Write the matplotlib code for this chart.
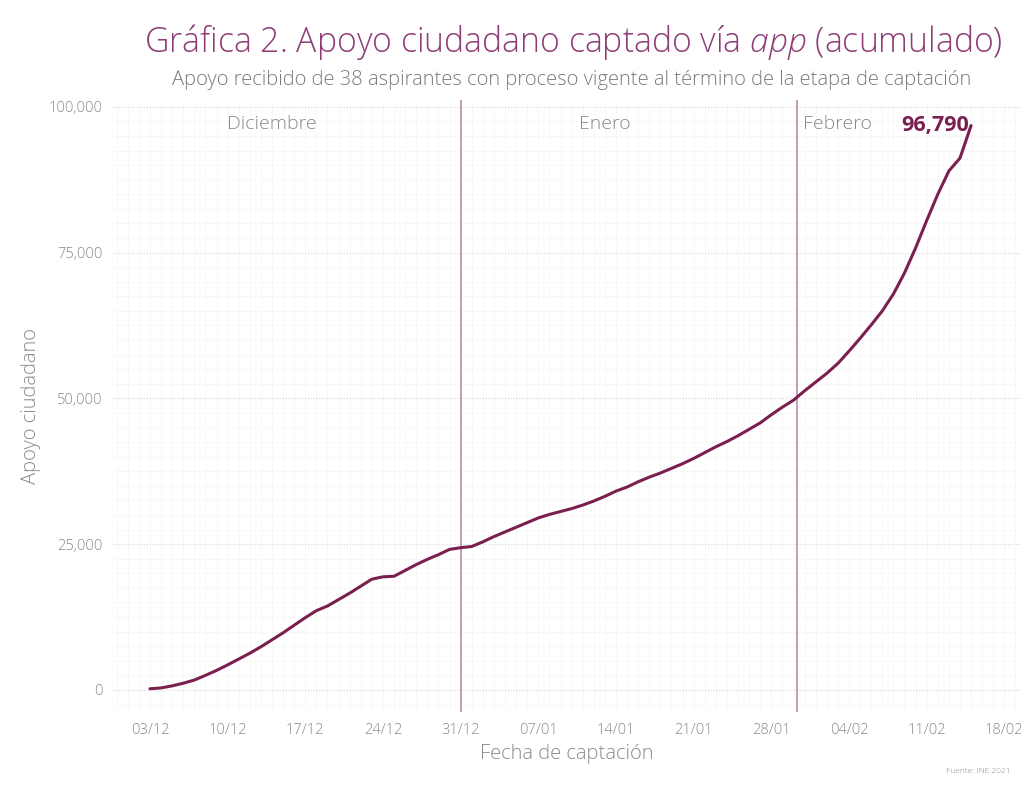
import matplotlib
matplotlib.use("Agg")
import matplotlib.pyplot as plt
import matplotlib.dates as mdates
import datetime as dt

# daily accumulated support, 03/12/2020 .. 15/02/2021
start = dt.datetime(2020, 12, 3)
apoyo = [200, 350, 700, 1150, 1700, 2500, 3350, 4300, 5300, 6300,
         7400, 8600, 9800, 11100, 12400, 13600, 14400, 15500, 16600, 17800,
         19000, 19400, 19500, 20500, 21500, 22400, 23200, 24100, 24400, 24600,
         25400, 26300, 27100, 27900, 28700, 29500, 30100, 30600, 31100, 31700,
         32400, 33200, 34100, 34800, 35700, 36500, 37200, 38000, 38800, 39700,
         40700, 41700, 42600, 43600, 44700, 45800, 47200, 48500, 49700, 51300,
         52800, 54300, 56000, 58100, 60300, 62600, 65000, 67900, 71500, 75800,
         80500, 85000, 89000, 91200, 96790]
fechas = [start + dt.timedelta(days=i) for i in range(len(apoyo))]

meses = ["Diciembre", "Enero", "Febrero"]
mes_x = [dt.datetime(2020, 12, 14), dt.datetime(2021, 1, 13), dt.datetime(2021, 2, 3)]
cortes = [dt.datetime(2020, 12, 31), dt.datetime(2021, 1, 30, 8)]
yticks = [0, 25000, 50000, 75000, 100000]

plt.rcParams['font.family'] = ['Open Sans', 'DejaVu Sans']
plt.rcParams['font.weight'] = 'light'
plt.rcParams['axes.labelweight'] = 'light'
plt.rcParams['mathtext.fontset'] = 'custom'
plt.rcParams['mathtext.rm'] = 'Open Sans:light'
plt.rcParams['mathtext.it'] = 'Open Sans:italic:light'

linea = '#7b1f4f'
titulo_c = '#8e3d76'
gris = '#8a8a8a'

fig = plt.figure(figsize=(10.21, 7.86), dpi=100)
ax = fig.add_axes([0.111, 0.094, 0.889, 0.779])

ax.plot(fechas, apoyo, color=linea, lw=2.2, solid_capstyle='round', zorder=5)

for c in cortes:
    ax.axvline(c, color='#b5849c', lw=1.1, zorder=3)

for m, x in zip(meses, mes_x):
    ax.text(x, 97000, m, ha='center', va='center', fontsize=14, color=gris)

ax.text(fechas[-1] - dt.timedelta(hours=4), 96790, f"{apoyo[-1]:,}", ha='right', va='center',
        fontsize=15.5, fontweight='bold', color=linea, zorder=6)

ax.set_xlim(start - dt.timedelta(days=3.3), start + dt.timedelta(days=78.5))
ax.set_ylim(-3800, 101200)
ax.set_yticks(yticks)
ax.set_yticklabels([f"{v:,}" for v in yticks])
xt = [start + dt.timedelta(days=7 * i) for i in range(12)]
ax.set_xticks(xt)
ax.set_xticklabels([d.strftime('%d/%m') for d in xt])
ax.xaxis.set_minor_locator(mdates.DayLocator())
ax.yaxis.set_minor_locator(plt.MultipleLocator(2500))

ax.grid(which='minor', color='#ececec', lw=0.6, ls=(0, (1, 1.5)))
ax.grid(which='major', axis='x', color='#ececec', lw=0.6, ls=(0, (1, 1.5)))
ax.grid(which='major', axis='y', color='#d8d8d8', lw=0.8, ls=(0, (1, 1.5)))
ax.set_axisbelow(True)
for s in ax.spines.values():
    s.set_visible(False)
ax.tick_params(which='both', length=0, labelsize=10.5, labelcolor=gris, pad=8)

ax.set_xlabel("Fecha de captación", fontsize=14.5, color=gris, labelpad=4)
ax.set_ylabel("Apoyo ciudadano", fontsize=14.5, color=gris, labelpad=5)

fig.text(0.562, 0.947, "Gráfica 2. Apoyo ciudadano captado vía $app$ (acumulado)",
         ha='center', va='center', fontsize=24.3, color=titulo_c)
fig.text(0.56, 0.898, "Apoyo recibido de 38 aspirantes con proceso vigente al término de la etapa de captación",
         ha='center', va='center', fontsize=14.5, color='#7a7a7a')
fig.text(0.99, 0.018, "Fuente: INE 2021", ha='right', va='center', fontsize=6, color=gris)

fig.savefig("out.png", dpi=100, facecolor='white')
